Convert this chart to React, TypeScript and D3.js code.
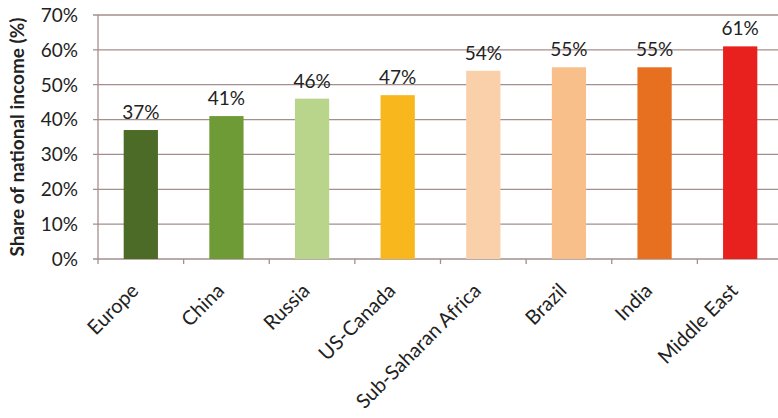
import React from "react";
import * as d3 from "d3";

const categories = ["Europe", "China", "Russia", "US-Canada", "Sub-Saharan Africa", "Brazil", "India", "Middle East"];
const values = [37, 41, 46, 47, 54, 55, 55, 61];
const barColors = ["#4b6b27", "#6f9b36", "#b9d58c", "#f8b71c", "#f9d0aa", "#f8bf8a", "#e6701f", "#e8211f"];
const yTicks = [0, 10, 20, 30, 40, 50, 60, 70];

const W = 778, H = 418;
const margin = { left: 98, right: -5, top: 15, bottom: 159 };
const FONT = "Lato, 'Open Sans', sans-serif";

export default function App() {
  const x = d3.scaleBand<string>().domain(categories).range([margin.left, W - margin.right]).padding(0);
  const y = d3.scaleLinear().domain([0, 70]).range([H - margin.bottom, margin.top]);
  const bw = x.bandwidth() * 0.4;
  const grid = "#a38f8b";
  return (
    <div style={{ position: "absolute", left: 0, top: 0 }}>
      <svg width={W} height={H} style={{ display: "block", background: "#fff" }}>
        {yTicks.map(t => (
          <g key={t}>
            <line x1={margin.left - 5} x2={W} y1={y(t)} y2={y(t)} stroke={grid} strokeWidth={1.3} />
            <text x={78} y={y(t)} dy="0.36em" textAnchor="end" fontFamily={FONT} fontSize={19} fill="#222">{t}%</text>
          </g>
        ))}
        <line x1={margin.left} x2={margin.left} y1={y(70)} y2={y(0) + 5} stroke={grid} strokeWidth={1.3} />
        {categories.map((c, i) => (
          <line key={"t" + i} x1={(x(c) as number) + x.bandwidth()} x2={(x(c) as number) + x.bandwidth()} y1={y(0)} y2={y(0) + 5} stroke={grid} strokeWidth={1.3} />
        ))}
        {categories.map((c, i) => {
          const cx = (x(c) as number) + x.bandwidth() / 2;
          return (
            <g key={c}>
              <rect x={cx - bw / 2} y={y(values[i])} width={bw} height={y(0) - y(values[i])} fill={barColors[i]} />
              <text x={cx} y={y(values[i]) - 11} textAnchor="middle" fontFamily={FONT} fontSize={19} fill="#222">{values[i]}%</text>
              <text transform={`translate(${cx - 1},${y(0) + 33}) rotate(-45)`} textAnchor="end" fontFamily={FONT} fontSize={20} fill="#222">{c}</text>
            </g>
          );
        })}
        <text transform={`translate(24,${(y(0) + y(70)) / 2}) rotate(-90)`} textAnchor="middle" fontFamily={FONT} fontWeight="bold" fontSize={19} fill="#222">Share of national income (%)</text>
      </svg>
    </div>
  );
}
